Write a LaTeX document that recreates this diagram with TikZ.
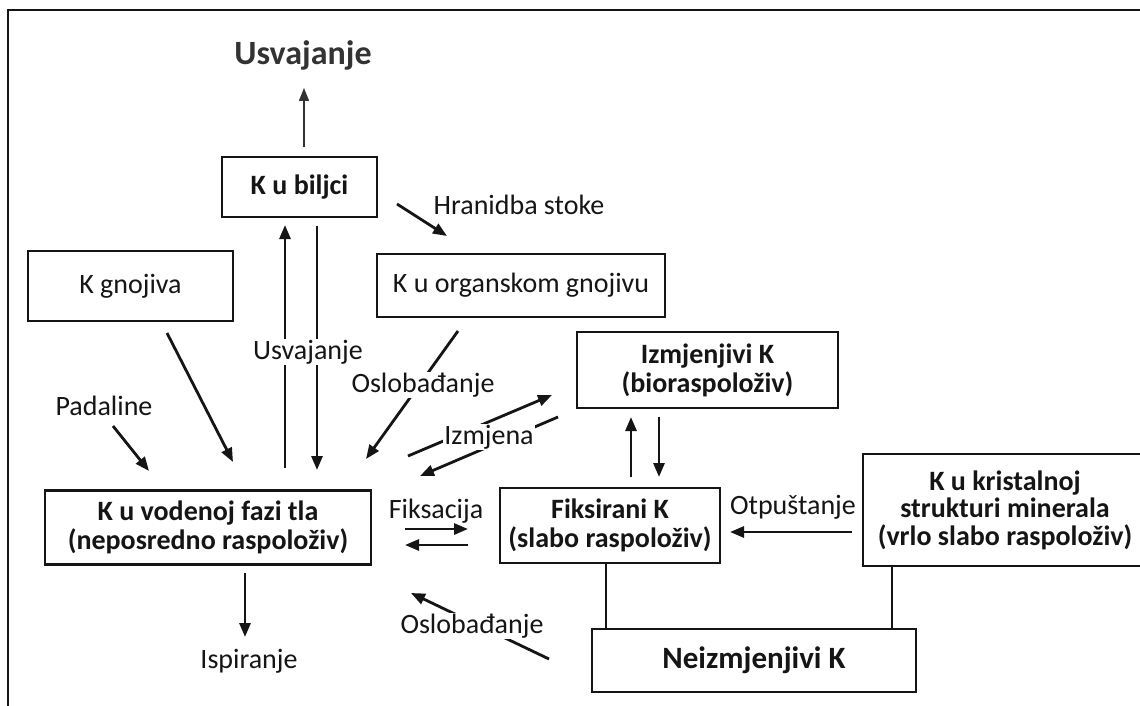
\documentclass[tikz,border=0pt]{standalone}
\usepackage{fontspec}
\setmainfont{Carlito}
\usetikzlibrary{arrows.meta}
\definecolor{ink}{HTML}{151515}
\definecolor{titleink}{HTML}{333333}
\begin{document}
\begin{tikzpicture}[x=1pt,y=-1pt,
  box/.style={draw=ink, line width=2.3pt, fill=white, align=center, inner sep=0pt, text=ink},
  bbox/.style={box, font=\bfseries\fontsize{28}{29}\selectfont},
  rbox/.style={box, font=\fontsize{28}{30}\selectfont},
  lbl/.style={font=\fontsize{28}{30}\selectfont, text=ink, inner sep=1pt},
  wlbl/.style={lbl, fill=white},
  arr/.style={draw=ink, line width=2.8pt, -{Triangle[length=14pt,width=11pt]}},
  tarr/.style={draw=titleink, line width=1.6pt, -{Triangle[length=13pt,width=10pt]}},
  ln/.style={draw=ink, line width=2.3pt}]
\clip (0,0) rectangle (1140,706);
\fill[white] (0,0) rectangle (1140,706);
% frame
\draw[draw=ink, line width=1.6pt] (8,720) -- (8,10) -- (1150,10);

% boxes
\node[bbox, minimum width=155pt, minimum height=60pt] (biljci) at (299.5,187) {K u biljci};
\node[rbox, minimum width=205pt, minimum height=70pt] (gnojiva) at (130.5,286) {K gnojiva};
\node[rbox, minimum width=288pt, minimum height=63pt] (organsko) at (521,285.5) {K u organskom gnojivu};
\node[bbox, minimum width=261pt, minimum height=76pt] (izmj) at (707.5,370) {Izmjenjivi K\\(bioraspoloživ)};
\node[bbox, minimum width=326pt, minimum height=74pt] (vodena) at (208,527.5) {K u vodenoj fazi tla\\(neposredno raspoloživ)};
\node[bbox, minimum width=220pt, minimum height=75pt] (fiks) at (610,525.5) {Fiksirani K\\(slabo raspoloživ)};
\node[bbox, minimum width=284pt, minimum height=112pt, font=\bfseries\fontsize{28}{27.5}\selectfont] (krist) at (1005,510) {K u kristalnoj\\strukturi minerala\\(vrlo slabo raspoloživ)};
\node[bbox, minimum width=324pt, minimum height=63pt, font=\bfseries\fontsize{31}{32}\selectfont] (neiz) at (754,660.5) {Neizmjenjivi K};

% title
\node[font=\bfseries\fontsize{34}{36}\selectfont, text=titleink, inner sep=0pt] (title) at (303,55) {Usvajanje};

% coordinates for free arrow ends
\coordinate (t1) at (304,147); \coordinate (t2) at (304,88);
\coordinate (u1) at (285,468); \coordinate (u2) at (285,225);
\coordinate (d1) at (317,226); \coordinate (d2) at (317,470);
\coordinate (h1) at (397,204); \coordinate (h2) at (447,236);
\coordinate (p1) at (113,426); \coordinate (p2) at (149,471);
\coordinate (g1) at (167,333); \coordinate (g2) at (233,462);
\coordinate (o1) at (458,331); \coordinate (o2) at (366,459);
\coordinate (i1) at (408,456); \coordinate (i2) at (552,395);
\coordinate (j1) at (558,417); \coordinate (j2) at (420,476);
\coordinate (f1) at (405,529); \coordinate (f2) at (468,529);
\coordinate (f3) at (468,545); \coordinate (f4) at (405,545);
\coordinate (b1) at (631,477); \coordinate (b2) at (631,417);
\coordinate (c1) at (659,417); \coordinate (c2) at (659,477);
\coordinate (r1) at (852,532); \coordinate (r2) at (730,532);
\coordinate (s1) at (549,659); \coordinate (s2) at (411,593);
\coordinate (e1) at (245,573); \coordinate (e2) at (245,637);
\coordinate (nx1) at (606,600); \coordinate (nx2) at (892,600);

% connectors
\draw[tarr] (t1) -- (t2);
\draw[arr] (u1) -- (u2);
\draw[arr] (d1) -- (d2);
\draw[arr] (h1) -- (h2);
\draw[arr] (p1) -- (p2);
\draw[arr] (g1) -- (g2);
\draw[arr] (o1) -- (o2);
\draw[arr] (i1) -- (i2);
\draw[arr] (j1) -- (j2);
\draw[arr] (f1) -- (f2);
\draw[arr] (f3) -- (f4);
\draw[arr] (b1) -- (b2);
\draw[arr] (c1) -- (c2);
\draw[arr] (r1) -- (r2);
\draw[arr] (s1) -- (s2);
\draw[arr] (e1) -- (e2);
\draw[ln] (fiks.south -| nx1) -- (neiz.north -| nx1);
\draw[ln] (krist.south -| nx2) -- (neiz.north -| nx2);

% labels
\node[lbl] (lhran) at (519,205) {Hranidba stoke};
\node[wlbl] (lusv) at (308,352) {Usvajanje};
\node[lbl] (lpad) at (104,406) {Padaline};
\node[wlbl] (losl1) at (423,385) {Oslobađanje};
\node[wlbl] (lizm) at (489,437) {Izmjena};
\node[lbl] (lfiks) at (436,511) {Fiksacija};
\node[lbl] (lotp) at (793,507) {Otpuštanje};
\node[wlbl] (losl2) at (472,626) {Oslobađanje};
\node[lbl] (lisp) at (249,661) {Ispiranje};
\end{tikzpicture}
\end{document}
